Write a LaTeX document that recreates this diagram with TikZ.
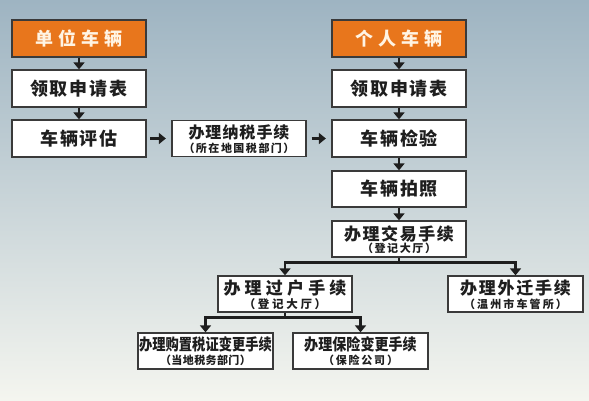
\documentclass[tikz,border=0pt]{standalone}
\usepackage{fontspec}
\usepackage{graphicx}
\newfontfamily\cjk{Noto Sans CJK SC}
\usetikzlibrary{arrows.meta,calc}
\definecolor{bgtop}{HTML}{9EB4C2}
\definecolor{bgmid}{HTML}{C6D1D0}
\definecolor{bgbot}{HTML}{F4F5EF}
\definecolor{orangec}{HTML}{E8761C}
\definecolor{boxc}{HTML}{3A3A3A}
\definecolor{arrc}{HTML}{1E1E1E}
\definecolor{txtc}{HTML}{1E1E1E}
\definecolor{otxt}{HTML}{FFF4E4}
\newcommand\fs[1]{\fontsize{#1}{#1}\selectfont}
\newcommand\spc[2]{\def\spgap{#1}\spcloop#2\relax}
\def\spcloop#1#2{#1\ifx\relax#2\else\hspace{\spgap}\expandafter\spcloop\expandafter#2\fi}
\tikzset{
  box/.style={draw=boxc, line width=1.3pt, fill=white, minimum width=134pt,
    minimum height=37pt, inner sep=0pt, font=\cjk\bfseries, text=txtc},
  obox/.style={box, fill=orangec, text=otxt},
  txt/.style={inner sep=0pt, font=\cjk\bfseries, text=txtc},
  arr/.style={draw=arrc, line width=2.6pt, -{Triangle[width=11pt,length=7pt]}},
  ln/.style={draw=arrc, line width=2.6pt}
}
\begin{document}
\begin{tikzpicture}[x=1pt,y=-1pt]
\useasboundingbox (0,0) rectangle (589,400);
\shade[top color=bgtop, middle color=bgmid, bottom color=bgbot] (0,0) rectangle (589,400);

% left column
\node[obox] (a1) at (79,38.5) {\fs{18}\spc{5pt}{单位车辆}};
\node[box] (a2) at (79,88.5) {\fs{18}\spc{2pt}{领取申请表}};
\node[box] (a3) at (79,138.5) {\fs{18}\spc{1.5pt}{车辆评估}};

% tax box
\node[box, minimum height=36pt] (t1) at (239,138.5) {};
\node[txt] (t1m) at ($(t1.center)+(0,-6.5)$) {\fs{16}\spc{1pt}{办理纳税手续}};
\node[txt] (t1s) at ($(t1.center)+(0,9.5)$) {\fs{11}\spc{1.5pt}{（所在地国税部门）}};

% right column
\node[obox] (b1) at (399,38.5) {\fs{18}\spc{5pt}{个人车辆}};
\node[box] (b2) at (399,88.5) {\fs{18}\spc{2pt}{领取申请表}};
\node[box] (b3) at (399,138.5) {\fs{18}\spc{2pt}{车辆检验}};
\node[box, minimum height=36pt] (b4) at (399,189) {\fs{18}\spc{2pt}{车辆拍照}};
\node[box, minimum height=36pt] (b5) at (399,239) {};
\node[txt] (b5m) at ($(b5.center)+(0,-5.5)$) {\fs{17}\spc{1.6pt}{办理交易手续}};
\node[txt] (b5s) at ($(b5.center)+(0,9)$) {\fs{11}\spc{1.6pt}{（登记大厅）}};

% second level
\node[box, minimum height=36pt] (c1) at (285,294) {};
\node[txt] (c1m) at ($(c1.center)+(0,-5.5)$) {\fs{17}\spc{4.2pt}{办理过户手续}};
\node[txt] (c1s) at ($(c1.center)+(0,10)$) {\fs{11.5}\spc{2.7pt}{（登记大厅）}};
\node[box, minimum height=36pt, minimum width=135pt] (c2) at (515.5,294) {};
\node[txt] (c2m) at ($(c2.center)+(0,-5.5)$) {\fs{17}\spc{1.8pt}{办理外迁手续}};
\node[txt] (c2s) at ($(c2.center)+(0,10)$) {\fs{11}\spc{2.1pt}{（温州市车管所）}};

% third level
\node[box, minimum height=36pt, minimum width=135pt] (d1) at (205.5,351) {};
\node[txt] (d1m) at ($(d1.center)+(0,-6.5)$) {\fs{16}\scalebox{0.83}[1]{办理购置税证变更手续}};
\node[txt] (d1s) at ($(d1.center)+(0,9.5)$) {\fs{11}\spc{0.4pt}{（当地税务部门）}};
\node[box, minimum height=36pt, minimum width=135pt] (d2) at (360.5,351) {};
\node[txt] (d2m) at ($(d2.center)+(0,-6.5)$) {\fs{16}\scalebox{0.88}[1]{办理保险变更手续}};
\node[txt] (d2s) at ($(d2.center)+(0,9.5)$) {\fs{11}\spc{1.8pt}{（保险公司）}};

% arrows
\draw[arr] (a1) -- (a2);
\draw[arr] (a2) -- (a3);
\draw[arr, shorten <=3.5pt, shorten >=5.5pt] (a3) -- (t1);
\draw[arr, shorten <=5pt, shorten >=5.5pt] (t1) -- (b3);
\draw[arr] (b1) -- (b2);
\draw[arr] (b2) -- (b3);
\draw[arr] (b3) -- (b4);
\draw[arr] (b4) -- (b5);

\coordinate (j1) at ($(b5.south)+(0,5)$);
\draw[ln] (b5.south) -- (j1);
\draw[arr] (j1) -| (c1.north);
\draw[arr] (j1) -| (c2.north);

\coordinate (j2) at ($(c1.south)+(0,5)$);
\draw[ln] (c1.south) -- (j2);
\draw[arr] (j2) -| (d1.north);
\draw[arr] (j2) -| (d2.north);
\end{tikzpicture}
\end{document}
